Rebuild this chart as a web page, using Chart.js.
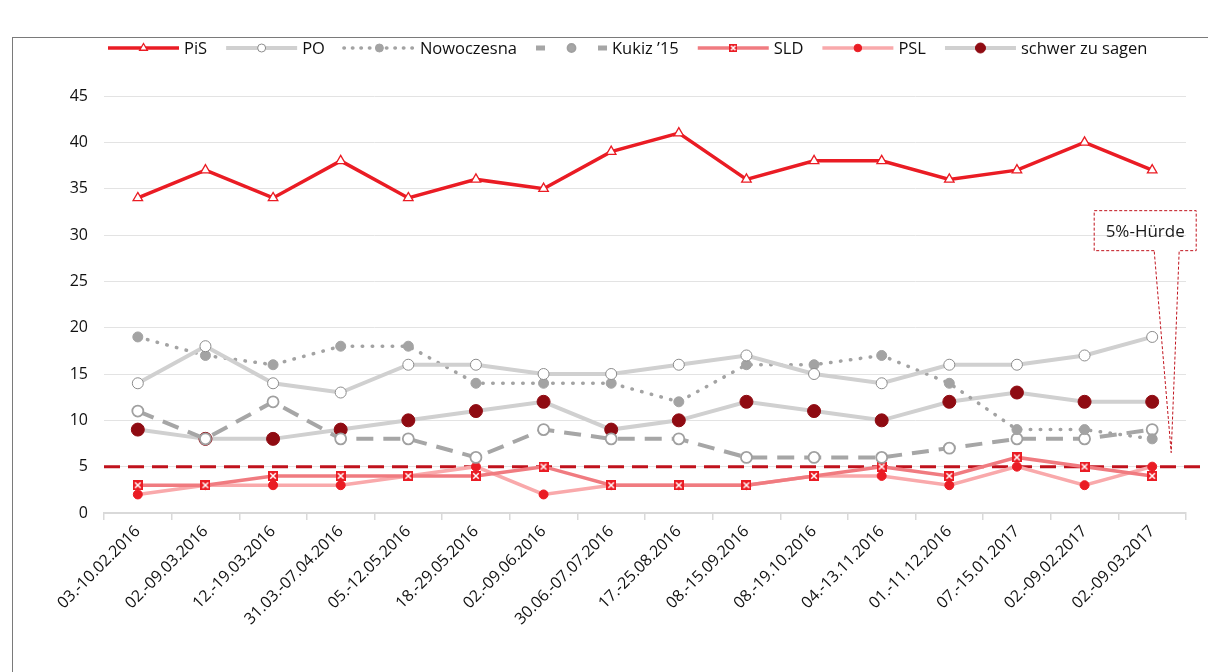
<!DOCTYPE html>
<html><head><meta charset="utf-8">
<script src="https://cdn.jsdelivr.net/npm/chart.js@4.4.1/dist/chart.umd.min.js"></script>
<style>
html,body{margin:0;padding:0;background:#fff;overflow:hidden;width:1208px;height:672px;}
#frame{position:absolute;left:12px;top:37px;width:1300px;height:800px;border:1.5px solid #7a7a7a;}
#c{position:absolute;left:0;top:0;}
</style></head>
<body>
<div id="frame"></div>
<canvas id="c" width="1208" height="672"></canvas>
<script>
const categories = ["03.-10.02.2016","02.-09.03.2016","12.-19.03.2016","31.03.-07.04.2016","05.-12.05.2016","18.-29.05.2016","02.-09.06.2016","30.06.-07.07.2016","17.-25.08.2016","08.-15.09.2016","08.-19.10.2016","04.-13.11.2016","01.-11.12.2016","07.-15.01.2017","02.-09.02.2017","02.-09.03.2017"];
const pis        = [34,37,34,38,34,36,35,39,41,36,38,38,36,37,40,37];
const po         = [14,18,14,13,16,16,15,15,16,17,15,14,16,16,17,19];
const nowoczesna = [19,17,16,18,18,14,14,14,12,16,16,17,14,9,9,8];
const kukiz      = [11,8,12,8,8,6,9,8,8,6,6,6,7,8,8,9];
const sld        = [3,3,4,4,4,4,5,3,3,3,4,5,4,6,5,4];
const psl        = [2,3,3,3,4,5,2,3,3,3,4,4,3,5,3,5];
const schwer     = [9,8,8,9,10,11,12,9,10,12,11,10,12,13,12,12];
const yTicks     = [0,5,10,15,20,25,30,35,40,45];
const threshold  = 5;
const thresholdLabel = "5%-Hürde";

const FONT = "'Open Sans', 'DejaVu Sans', sans-serif";

function makeSldMark(size){
  const c = document.createElement('canvas');
  c.width = size; c.height = size;
  const g = c.getContext('2d');
  g.fillStyle = '#ea1c24'; g.fillRect(0,0,size,size);
  g.strokeStyle = '#fff'; g.lineWidth = 1.5;
  const p = size*0.22;
  g.beginPath(); g.moveTo(p,p); g.lineTo(size-p,size-p); g.moveTo(size-p,p); g.lineTo(p,size-p); g.stroke();
  return c;
}
const sldMark = makeSldMark(10);
const sldMarkSmall = makeSldMark(8);

const datasets = [
  {label:'PiS', data:pis, borderColor:'#ea1c24', borderWidth:3.5, pointStyle:'triangle', pointRadius:5.5, pointBackgroundColor:'#fff', pointBorderColor:'#ea1c24', pointBorderWidth:1.3, legendRadius:4.5},
  {label:'PO', data:po, borderColor:'#d0d0d0', borderWidth:4, pointStyle:'circle', pointRadius:5.5, pointBackgroundColor:'#fff', pointBorderColor:'#8c8c8c', pointBorderWidth:1, legendRadius:4},
  {label:'Nowoczesna', data:nowoczesna, borderColor:'#a3a3a3', borderWidth:3.5, borderDash:[0.5,9.5], borderCapStyle:'round', pointStyle:'circle', pointRadius:5, pointBackgroundColor:'#a3a3a3', pointBorderColor:'#a3a3a3', pointBorderWidth:1, legendRadius:4, legendDash:[0.5,8]},
  {label:'Kukiz \u201915', data:kukiz, borderColor:'#a6a6a6', borderWidth:4, borderDash:[17,10], pointStyle:'circle', pointRadius:5.5, pointBackgroundColor:'#fff', pointBorderColor:'#a0a0a0', pointBorderWidth:1.8, legendRadius:4, legendFill:'#a6a6a6', legendDash:[9,53], legendWidth:5},
  {label:'SLD', data:sld, borderColor:'#f07b80', borderWidth:3.5, pointStyle:sldMark, pointRadius:5, pointBackgroundColor:'#ea1c24', pointBorderColor:'#ea1c24', legendStyle:sldMarkSmall},
  {label:'PSL', data:psl, borderColor:'#f9a9ab', borderWidth:3.5, pointStyle:'circle', pointRadius:4.5, pointBackgroundColor:'#ea1c24', pointBorderColor:'#ea1c24', pointBorderWidth:1, legendRadius:3.8},
  {label:'schwer zu sagen', data:schwer, borderColor:'#d0d0d0', borderWidth:4, pointStyle:'circle', pointRadius:6.5, pointBackgroundColor:'#8f0b12', pointBorderColor:'#8f0b12', pointBorderWidth:1, legendRadius:5}
];
datasets.forEach(d => { d.fill = false; d.tension = 0; d.pointHoverRadius = d.pointRadius; });

const thresholdPlugin = {
  id:'threshold',
  beforeDatasetsDraw(chart){
    const {ctx, chartArea, scales} = chart;
    const y = scales.y.getPixelForValue(threshold);
    ctx.save();
    ctx.strokeStyle = '#c0121c'; ctx.lineWidth = 3; ctx.setLineDash([16,8]);
    ctx.beginPath(); ctx.moveTo(chartArea.left, y); ctx.lineTo(chart.width, y); ctx.stroke();
    ctx.restore();
  },
  afterDraw(chart){
    const {ctx, scales} = chart;
    const y5 = scales.y.getPixelForValue(threshold);
    const xl = scales.x.getPixelForValue(categories.length-1);
    const L = xl - 58, R = xl + 44, T = y5 - 256, B = y5 - 216;
    ctx.save();
    ctx.strokeStyle = '#c0121c'; ctx.lineWidth = 1; ctx.setLineDash([3,2]);
    ctx.beginPath();
    ctx.moveTo(xl + 2, B); ctx.lineTo(L, B); ctx.lineTo(L, T); ctx.lineTo(R, T); ctx.lineTo(R, B); ctx.lineTo(xl + 27, B);
    ctx.lineTo(xl + 19, y5 - 14); ctx.lineTo(xl + 2, B);
    ctx.stroke();
    ctx.setLineDash([]);
    ctx.fillStyle = '#1a1a1a'; ctx.font = '17px ' + FONT; ctx.textAlign = 'center'; ctx.textBaseline = 'middle';
    ctx.fillText(thresholdLabel, (L+R)/2, (T+B)/2 + 1);
    ctx.restore();
  }
};

const legendPlugin = {
  id:'customLegend',
  afterDraw(chart){
    const ctx = chart.ctx;
    let x = 108; const y = 48;
    ctx.save();
    ctx.font = '16.5px ' + FONT; ctx.textBaseline = 'middle'; ctx.textAlign = 'left';
    chart.data.datasets.forEach(ds => {
      ctx.save();
      ctx.strokeStyle = ds.borderColor; ctx.lineWidth = ds.legendWidth || ds.borderWidth;
      ctx.lineCap = ds.borderCapStyle || 'butt';
      ctx.setLineDash(ds.legendDash || ds.borderDash || []);
      ctx.beginPath(); ctx.moveTo(x, y); ctx.lineTo(x + 71, y); ctx.stroke();
      ctx.setLineDash([]);
      ctx.lineCap = 'butt';
      ctx.lineWidth = ds.pointBorderWidth || 1;
      ctx.fillStyle = ds.legendFill || ds.pointBackgroundColor; ctx.strokeStyle = ds.pointBorderColor;
      Chart.helpers.drawPoint(ctx, {pointStyle: ds.legendStyle || ds.pointStyle, radius: ds.legendRadius || 4, borderWidth: ds.pointBorderWidth || 1, rotation: 0}, x + 35.5, y);
      ctx.restore();
      ctx.fillStyle = '#111';
      ctx.fillText(ds.label, x + 76, y + 1);
      x += 76 + ctx.measureText(ds.label).width + 19;
    });
    ctx.restore();
  }
};

new Chart(document.getElementById('c'), {
  type:'line',
  data:{labels:categories, datasets},
  options:{
    responsive:false, animation:false, devicePixelRatio:1,
    layout:{padding:{top:96, right:22, left:0, bottom:0}},
    plugins:{legend:{display:false}, tooltip:{enabled:false}, title:{display:false}},
    scales:{
      x:{
        offset:true,
        grid:{display:true, drawOnChartArea:false, drawTicks:true, tickLength:7, color:'#d9d9d9', lineWidth:1.5, offset:true},
        border:{display:true, color:'#d9d9d9', width:2},
        ticks:{minRotation:45, maxRotation:45, autoSkip:false, color:'#111', padding:2, font:{family:FONT, size:16}},
        afterFit(s){ s.height = 159; }
      },
      y:{
        min:0, max:45,
        afterBuildTicks(s){ s.ticks = yTicks.map(v => ({value:v})); },
        grid:{color:'#e3e3e3', lineWidth:1, drawTicks:false},
        border:{display:false},
        ticks:{color:'#111', padding:16, font:{family:FONT, size:16}},
        afterFit(s){ s.width = 104; }
      }
    }
  },
  plugins:[thresholdPlugin, legendPlugin]
});
</script>
</body></html>
